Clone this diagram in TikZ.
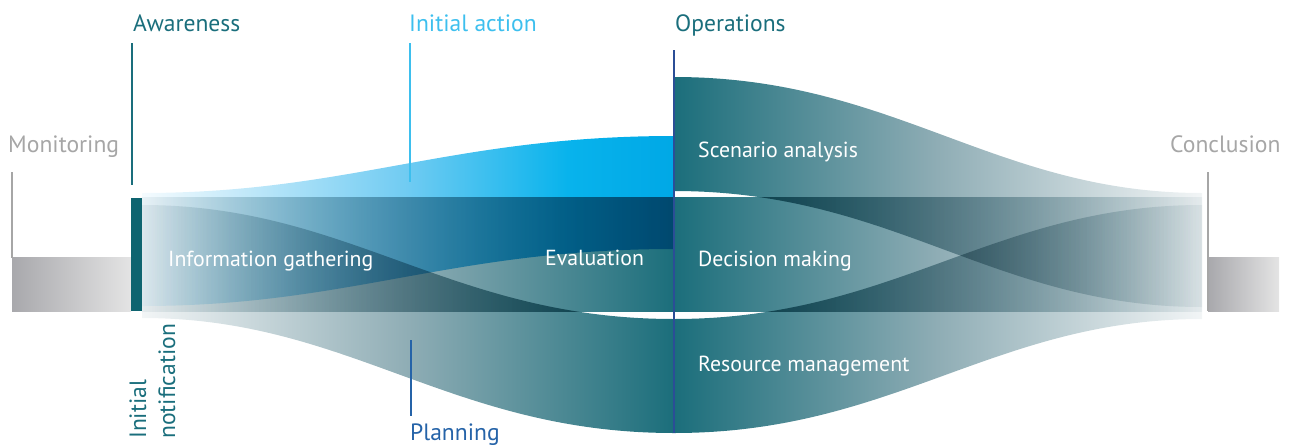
\documentclass[tikz,border=0pt]{standalone}
\usepackage{fontspec}
\setmainfont{PT Sans}
\definecolor{tealA}{HTML}{1B6E7B}
\definecolor{tealM}{HTML}{8FADB5}
\definecolor{tealW}{HTML}{F2F5F6}
\definecolor{lbW}{HTML}{F5FBFE}
\definecolor{lbM}{HTML}{6FCBF2}
\definecolor{lbS}{HTML}{08B3EC}
\definecolor{lbA}{HTML}{00A8E6}
\definecolor{grayD}{HTML}{A8A8AC}
\definecolor{grayL}{HTML}{E4E4E4}
\definecolor{barteal}{HTML}{0E6470}
\definecolor{txtteal}{HTML}{1A6E7C}
\definecolor{txtlb}{HTML}{3DBFEE}
\definecolor{txtblue}{HTML}{2563A8}
\definecolor{opsblue}{HTML}{2B4E96}
\definecolor{txtgray}{HTML}{A6A6A6}
\pgfdeclarehorizontalshading{tealL}{100bp}{color(0bp)=(tealW); color(25bp)=(tealW); color(50bp)=(tealM); color(75bp)=(tealA); color(100bp)=(tealA)}
\pgfdeclarehorizontalshading{tealR}{100bp}{color(0bp)=(tealA); color(25bp)=(tealA); color(50bp)=(tealM); color(75bp)=(tealW); color(100bp)=(tealW)}
\pgfdeclarehorizontalshading{blueL}{100bp}{color(0bp)=(lbW); color(25bp)=(lbW); color(50bp)=(lbM); color(65bp)=(lbS); color(75bp)=(lbA); color(100bp)=(lbA)}
\pgfdeclarehorizontalshading{grayR}{100bp}{color(0bp)=(grayD); color(25bp)=(grayD); color(75bp)=(grayL); color(100bp)=(grayL)}
\tikzset{
  flowL/.style={shading=tealL, blend mode=multiply},
  flowR/.style={shading=tealR, blend mode=multiply},
  flowB/.style={shading=blueL, blend mode=multiply},
  grayblock/.style={shading=grayR},
  lead/.style={line width=2pt},
  lbl/.style={inner sep=0pt, anchor=base west, font=\fontsize{23.6}{28}\selectfont},
  inlbl/.style={inner sep=0pt, anchor=base west, text=white, font=\fontsize{21.8}{26}\selectfont},
}
\begin{document}
\begin{tikzpicture}[x=1pt,y=-1pt]
\useasboundingbox (0,0) rectangle (1291,445);
% gray end blocks
\shade[grayblock] (12,257) rectangle (131,311);
\shade[grayblock] (1208,257) rectangle (1279,311);
% left flows
\shade[flowL] (142,197) rectangle (674,311);
\shade[flowB] (142,193) .. controls (350,193) and (450,136) .. (674,136)
   -- (674,249) .. controls (450,249) and (350,306) .. (142,306) -- cycle;
\shade[flowL] (142,205) .. controls (350,205) and (450,319) .. (674,319)
   -- (674,433) .. controls (450,433) and (350,318) .. (142,318) -- cycle;
% right flows
\shade[flowR] (674,197) rectangle (1202,311);
\shade[flowR] (674,77) .. controls (894,77) and (994,193) .. (1202,193)
   -- (1202,307) .. controls (994,307) and (894,191) .. (674,191) -- cycle;
\shade[flowR] (674,319) .. controls (894,319) and (994,205) .. (1202,205)
   -- (1202,319) .. controls (994,319) and (894,433) .. (674,433) -- cycle;
% bar
\fill[barteal] (131,198) rectangle (142,311);
% leader lines
\coordinate (mon1) at (12,172); \coordinate (mon2) at (12,258);
\coordinate (aw1) at (132,43); \coordinate (aw2) at (132,185);
\coordinate (ia1) at (410,43); \coordinate (ia2) at (410,182);
\coordinate (pl1) at (411,340); \coordinate (pl2) at (411,416);
\coordinate (op1) at (674,50); \coordinate (op2) at (674,433);
\coordinate (co1) at (1208,172); \coordinate (co2) at (1208,311);
\draw[lead, txtgray] (mon1) -- (mon2);
\draw[lead, txtteal] (aw1) -- (aw2);
\draw[lead, txtlb] (ia1) -- (ia2);
\draw[lead, txtblue] (pl1) -- (pl2);
\draw[lead, opsblue] (op1) -- (op2);
\draw[lead, txtgray] (co1) -- (co2);
% labels
\node[lbl, text=txtgray] (monitoring) at (8,152) {Monitoring};
\node[lbl, text=txtteal] (awareness) at (133,31) {Awareness};
\node[lbl, text=txtlb] (initaction) at (409,31) {Initial action};
\node[lbl, text=txtteal] (operations) at (675,31) {Operations};
\node[lbl, text=txtgray] (conclusion) at (1170,152) {Conclusion};
\node[lbl, text=txtblue] (planning) at (410,440) {Planning};
\node[lbl, text=txtteal, rotate=90] (initial) at (146,439) {Initial};
\node[lbl, text=txtteal, rotate=90] (notification) at (175,439) {notification};
\node[inlbl] (infogath) at (168,266) {Information gathering};
\node[inlbl] (evaluation) at (545,265) {Evaluation};
\node[inlbl] (scenario) at (698,157) {Scenario analysis};
\node[inlbl] (decision) at (698,266) {Decision making};
\node[inlbl] (resource) at (698,371) {Resource management};
\end{tikzpicture}
\end{document}
